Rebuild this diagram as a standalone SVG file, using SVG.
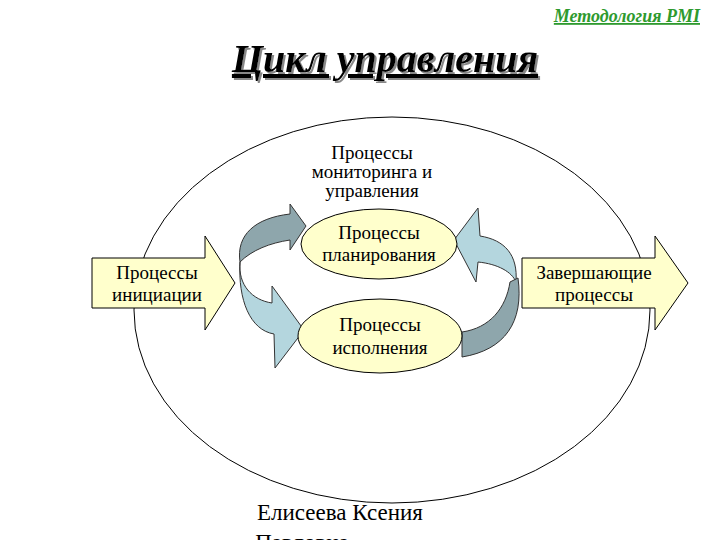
<svg xmlns="http://www.w3.org/2000/svg" width="720" height="540" viewBox="0 0 720 540">
<style>
.t{font-family:"Liberation Serif","DejaVu Serif",serif;font-size:19px;fill:#000;text-anchor:middle}
.box{fill:#ffffcc;stroke:#000;stroke-width:1}
.dk{fill:#8ea6ac;stroke:#333;stroke-width:1}
.lt{fill:#b4d6de;stroke:#333;stroke-width:1}
</style>
<defs><filter id="sh" x="-5%" y="-20%" width="110%" height="140%"><feDropShadow dx="2" dy="2" stdDeviation="0.5" flood-color="#888"/></filter></defs>
<rect width="720" height="540" fill="#fff"/>
<text x="700" y="22" font-family="'Liberation Serif','DejaVu Serif',serif" font-size="18" font-weight="bold" font-style="italic" fill="#2e9a2e" text-anchor="end" text-decoration="underline">Методология PMI</text>
<text x="385" y="72" filter="url(#sh)" font-family="'Liberation Serif','DejaVu Serif',serif" font-size="40" font-weight="bold" font-style="italic" fill="#000" text-anchor="middle" text-decoration="underline">Цикл управления</text>
<g id="outer"><ellipse cx="392" cy="310" rx="258" ry="193" fill="#fff" stroke="#000"/></g>
<g id="monitoring"><text class="t" x="372" y="159">Процессы</text><text class="t" x="372" y="178">мониторинга и</text><text class="t" x="372" y="197">управления</text></g>
<g id="connectors">
<path class="dk" d="M240,262 C236,235 255,218 290,214 L290,204 L306,226 L290,250 L290,240 C270,243 252,250 240,262 Z"/>
<path class="lt" d="M240,262 C238,285 252,300 272,303 L272,286 L304,330 L275,368 L274,334 C250,330 238,300 240,262 Z"/>
<path class="lt" d="M516,282 C518,255 505,240 480,236 L478,208 L454,240 L476,282 L478,262 C498,264 512,272 516,282 Z"/>
<path class="dk" d="M518,278 C524,322 505,350 462,357 L462,332 C490,328 506,308 510,282 Z"/>
</g>
<g id="planning"><ellipse class="box" cx="379" cy="244" rx="78" ry="35"/><text class="t" x="379" y="239">Процессы</text><text class="t" x="379" y="261">планирования</text></g>
<g id="execution"><ellipse class="box" cx="380" cy="336" rx="82" ry="37"/><text class="t" x="380" y="331">Процессы</text><text class="t" x="380" y="354">исполнения</text></g>
<g id="initiation"><path class="box" d="M92,258 L205,258 L205,236 L235,283 L205,330 L205,308 L92,308 Z"/><text class="t" x="157" y="279">Процессы</text><text class="t" x="157" y="301">инициации</text></g>
<g id="closing"><path class="box" d="M522,258 L655,258 L655,236 L688,283 L655,330 L655,308 L522,308 Z"/><text class="t" x="594" y="279">Завершающие</text><text class="t" x="594" y="301">процессы</text></g>
<text x="340" y="520" font-family="'Liberation Serif','DejaVu Serif',serif" font-size="23" text-anchor="middle">Елисеева Ксения</text>
<text x="302" y="550" font-family="'Liberation Serif','DejaVu Serif',serif" font-size="23" text-anchor="middle">Павловна</text>
</svg>
